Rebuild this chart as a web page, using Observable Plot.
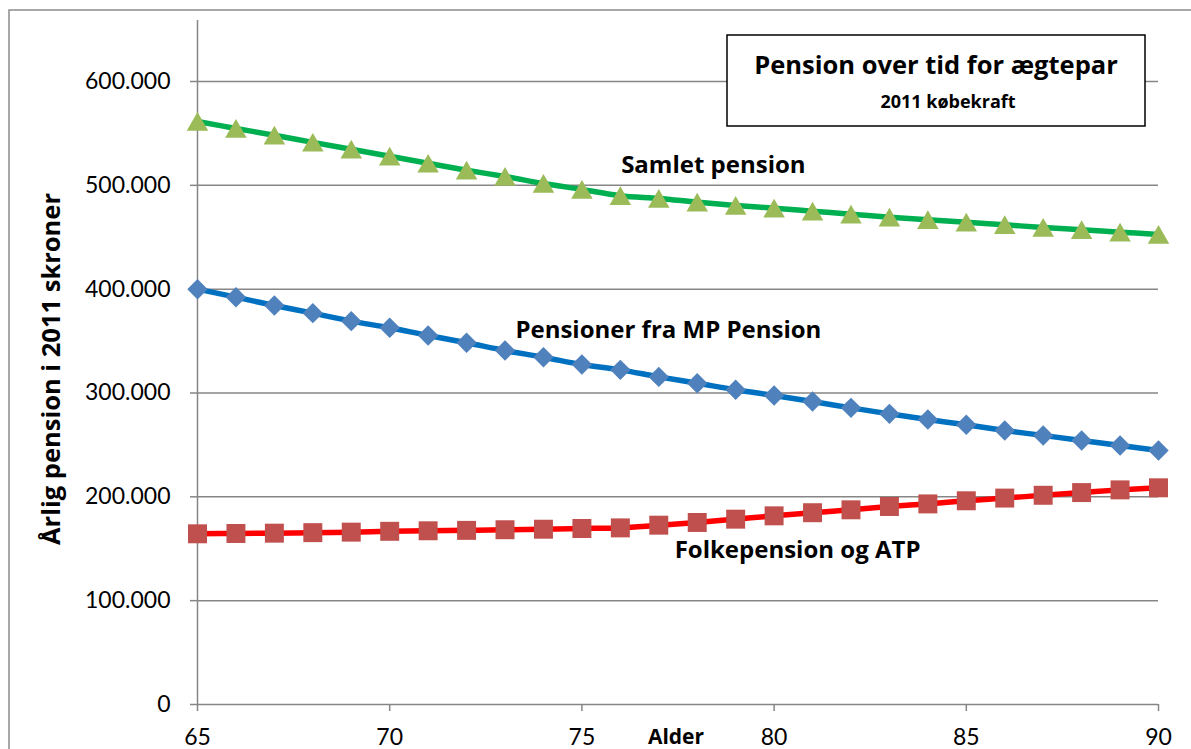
<!DOCTYPE html>
<html>
<head>
<meta charset="utf-8">
<script src="https://cdn.jsdelivr.net/npm/d3@7"></script>
<script src="https://cdn.jsdelivr.net/npm/@observablehq/plot@0.6"></script>
<style>
  body { margin: 0; background: #fff; }
  #wrap { position: relative; width: 1191px; height: 749px; overflow: hidden; }
  #wrap svg { position: absolute; left: 0; top: 0; }
  #overlay { pointer-events: none; }
</style>
</head>
<body>
<div id="wrap"></div>
<script>
// ---- data ----
const ages = [65, 66, 67, 68, 69, 70, 71, 72, 73, 74, 75, 76, 77, 78, 79, 80, 81, 82, 83, 84, 85, 86, 87, 88, 89, 90];
const samletPension = [561500, 554800, 548200, 541400, 534700, 528000, 521200, 514500, 508500, 501800, 496000, 490000, 487300, 483800, 480600, 478000, 475100, 472200, 469300, 466800, 464500, 462000, 459400, 457200, 454900, 452700];
const mpPension = [400000, 392300, 384300, 376900, 369200, 362800, 355400, 348400, 340900, 334500, 327400, 322300, 315500, 309400, 303100, 297600, 291800, 285700, 279900, 274400, 269400, 263900, 259100, 254300, 249400, 244600];
const folkepensionATP = [164400, 164700, 165000, 165500, 166000, 166800, 167300, 167700, 168300, 168800, 169500, 170100, 172700, 175300, 178500, 181700, 184700, 187500, 190700, 193200, 196200, 198800, 201500, 204100, 206700, 208700];
const yTicks = [0, 100000, 200000, 300000, 400000, 500000, 600000];
const xTicks = [65, 70, 75, 80, 85, 90];
const seriesLabels = [
  { text: "Samlet pension", age: 78.42, value: 519100 },
  { text: "Pensioner fra MP Pension", age: 77.25, value: 360200 },
  { text: "Folkepension og ATP", age: 80.61, value: 148300 }
];
const titleText = "Pension over tid for ægtepar";
const subtitleText = "2011 købekraft";
const yTitle = "Årlig pension i 2011 skroner";
const xTitle = "Alder";

// ---- build ----
const rows = (vals) => ages.map((a, i) => ({ age: a, value: vals[i] }));
const samletRows = rows(samletPension);
const mpRows = rows(mpPension);
const folkRows = rows(folkepensionATP);

const fmt = d3.formatLocale({ decimal: ",", thousands: ".", grouping: [3], currency: ["", ""] }).format(",");
const FONT = "Lato, 'Open Sans', sans-serif";
const BOLDFONT = "'Open Sans', Lato, sans-serif";
const GRAY = "#868686";

const chart = Plot.plot({
  width: 1191,
  height: 749,
  marginLeft: 197,
  marginRight: 33,
  marginTop: 20,
  marginBottom: 45,
  style: { fontFamily: FONT, background: "transparent", color: "#000", overflow: "visible" },
  x: { domain: [65, 90] },
  y: { domain: [0, 658750] },
  marks: [
    Plot.gridY(yTicks, { stroke: GRAY, strokeOpacity: 1, strokeWidth: 1.5 }),
    Plot.ruleX([65], { stroke: GRAY, strokeWidth: 1.5 }),
    Plot.axisY(yTicks, { tickSize: 7, tickPadding: 20, tickFormat: fmt, fontSize: 23, stroke: GRAY, strokeWidth: 1.5, fill: "#000", label: null }),
    Plot.axisX(xTicks, { tickSize: 7, tickPadding: 17, fontSize: 23, stroke: GRAY, strokeWidth: 1.5, fill: "#000", label: null }),
    Plot.line(folkRows, { x: "age", y: "value", stroke: "#FF0000", strokeWidth: 5.5, curve: "catmull-rom" }),
    Plot.dot(folkRows, { x: "age", y: "value", symbol: "square", r: 10.7, fill: "#C0504D" }),
    Plot.line(mpRows, { x: "age", y: "value", stroke: "#0070C0", strokeWidth: 5.5, curve: "catmull-rom" }),
    Plot.dot(mpRows, { x: "age", y: "value", symbol: "diamond2", r: 9.2, fill: "#4F81BD" }),
    Plot.line(samletRows, { x: "age", y: "value", stroke: "#00B050", strokeWidth: 5.5, curve: "catmull-rom" }),
    Plot.dot(samletRows, { x: "age", y: "value", symbol: "triangle", r: 8, dy: 3, fill: "#9BBB59" }),
    Plot.text(seriesLabels, { x: "age", y: "value", text: "text", fontSize: 24, fontWeight: "bold", fontFamily: BOLDFONT, fill: "#000", textAnchor: "middle" })
  ]
});
document.getElementById("wrap").appendChild(chart);

// ---- overlay: outer border, title box, axis titles ----
const ov = d3.select("#wrap").append("svg").attr("id", "overlay")
  .attr("width", 1191).attr("height", 749)
  .style("font-family", BOLDFONT);
ov.append("rect").attr("x", 9).attr("y", 10).attr("width", 1400).attr("height", 1000)
  .attr("fill", "none").attr("stroke", "#8c8c8c").attr("stroke-width", 1.5);
ov.append("rect").attr("x", 727).attr("y", 35).attr("width", 418).attr("height", 91)
  .attr("fill", "#fff").attr("stroke", "#000").attr("stroke-width", 1.5);
ov.append("text").attr("x", 936).attr("y", 74).attr("text-anchor", "middle")
  .attr("font-size", 25.5).attr("font-weight", "bold").text(titleText);
ov.append("text").attr("x", 948).attr("y", 108).attr("text-anchor", "middle")
  .attr("font-size", 18).attr("font-weight", "bold").text(subtitleText);
ov.append("text").attr("transform", "translate(60,369) rotate(-90)").attr("text-anchor", "middle")
  .attr("font-size", 25.5).attr("font-weight", "bold").text(yTitle);
ov.append("text").attr("x", 676).attr("y", 744).attr("text-anchor", "middle")
  .attr("font-size", 21).attr("font-weight", "bold").text(xTitle);
</script>
</body>
</html>
